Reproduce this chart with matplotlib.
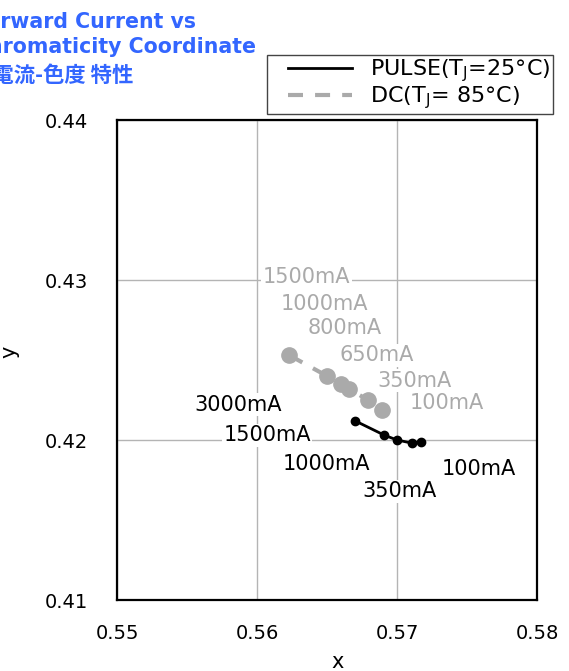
import matplotlib.pyplot as plt
from matplotlib.lines import Line2D
from matplotlib.legend_handler import HandlerLine2D

# chromaticity data
pulse_x = [0.5670, 0.5691, 0.5700, 0.5711, 0.5717]
pulse_y = [0.4212, 0.4203, 0.4200, 0.4198, 0.4199]
pulse_labels = ["3000mA", "1500mA", "1000mA", "350mA", "100mA"]

dc_x = [0.5623, 0.5650, 0.5660, 0.5666, 0.5679, 0.5689]
dc_y = [0.4253, 0.4240, 0.4235, 0.4232, 0.4225, 0.4219]
dc_labels = ["1500mA", "1000mA", "800mA", "650mA", "350mA", "100mA"]

# where the current labels sit (left edge, middle)
pulse_label_pos = [(0.5555, 0.4222), (0.5576, 0.4203), (0.5618, 0.4185),
                   (0.5675, 0.4168), (0.5732, 0.4182)]
dc_label_pos = [(0.5604, 0.4302), (0.5617, 0.4285), (0.5636, 0.4270),
                (0.5659, 0.4253), (0.5686, 0.4237), (0.5709, 0.4223)]

x_ticks = [0.55, 0.56, 0.57, 0.58]
y_ticks = [0.41, 0.42, 0.43, 0.44]

GRAY = "#aaaaaa"
BLUE = "#3366ff"
DASH = (0, (3.6, 2.9))


class PaddedLine(HandlerLine2D):
    # leaves some blank room left of the legend line
    def create_artists(self, legend, orig_handle, xdescent, ydescent,
                       width, height, fontsize, trans):
        pad = width * 0.22
        return super().create_artists(legend, orig_handle, xdescent - pad,
                                      ydescent, width - pad, height,
                                      fontsize, trans)


fig = plt.figure(figsize=(5.69, 6.71), dpi=100)
ax = fig.add_axes([117 / 569, 71 / 671, 420 / 569, 480 / 671])

ax.plot(pulse_x, pulse_y, color="black", lw=2, marker="o", ms=6, zorder=4)
ax.plot(dc_x, dc_y, color=GRAY, lw=3, ls=DASH, marker="o", ms=11, zorder=3)

box = dict(facecolor="white", edgecolor="none", pad=1)
for lab, (tx, ty) in zip(pulse_labels, pulse_label_pos):
    ax.text(tx, ty, lab, fontsize=15, color="black", ha="left", va="center",
            bbox=box, zorder=2)
for lab, (tx, ty) in zip(dc_labels, dc_label_pos):
    ax.text(tx, ty, lab, fontsize=15, color=GRAY, ha="left", va="center",
            bbox=box, zorder=2)

ax.set_xlim(0.55, 0.58)
ax.set_ylim(0.41, 0.44)
ax.set_xticks(x_ticks)
ax.set_yticks(y_ticks)
ax.set_xticklabels([f"{v:.2f}" for v in x_ticks])
ax.set_yticklabels([f"{v:.2f}" for v in y_ticks])
ax.tick_params(axis="both", length=0, labelsize=14)
ax.tick_params(axis="y", pad=21)
ax.tick_params(axis="x", pad=17)
ax.grid(True, color="#b4b4b4", lw=1, zorder=0)
ax.set_axisbelow(True)
for sp in ax.spines.values():
    sp.set_linewidth(1.6)

ax.set_xlabel("x", fontsize=15, va="center")
ax.xaxis.set_label_coords(0.524, -0.13)
ax.set_ylabel("y", fontsize=15, va="center")
ax.yaxis.set_label_coords(-0.255, 0.517)

handles = [Line2D([], [], color="black", lw=2),
           Line2D([], [], color=GRAY, lw=3, ls=DASH)]
names = [r"PULSE(T$_\mathregular{J}$=25°C)", r"DC(T$_\mathregular{J}$= 85°C)"]
leg = fig.legend(handles, names, loc="upper right",
                 bbox_to_anchor=(553 / 569, 1 - 55 / 671),
                 fontsize=16, frameon=True, fancybox=False, handlelength=3.7,
                 handletextpad=0.8, borderpad=0.12, labelspacing=0.0,
                 borderaxespad=0, handler_map={Line2D: PaddedLine()})
leg.get_frame().set_edgecolor("#444444")
leg.get_frame().set_linewidth(1)
leg.get_frame().set_alpha(1)

# title runs off the left edge as in the source image
title_font = ["DejaVu Sans", "Noto Sans CJK JP"]
fig.text(-27 / 569, 1 - 22 / 671, "Forward Current vs", color=BLUE,
         fontsize=14.8, fontweight="bold", family=title_font, va="center")
fig.text(-27 / 569, 1 - 47 / 671, "Chromaticity Coordinate", color=BLUE,
         fontsize=14.8, fontweight="bold", family=title_font, va="center")
fig.text(-29 / 569, 1 - 75 / 671, "順電流-色度 特性", color=BLUE,
         fontsize=15.4, fontweight="bold", family=["Noto Sans CJK JP", "DejaVu Sans"],
         va="center")

fig.savefig("out.png", dpi=100)
